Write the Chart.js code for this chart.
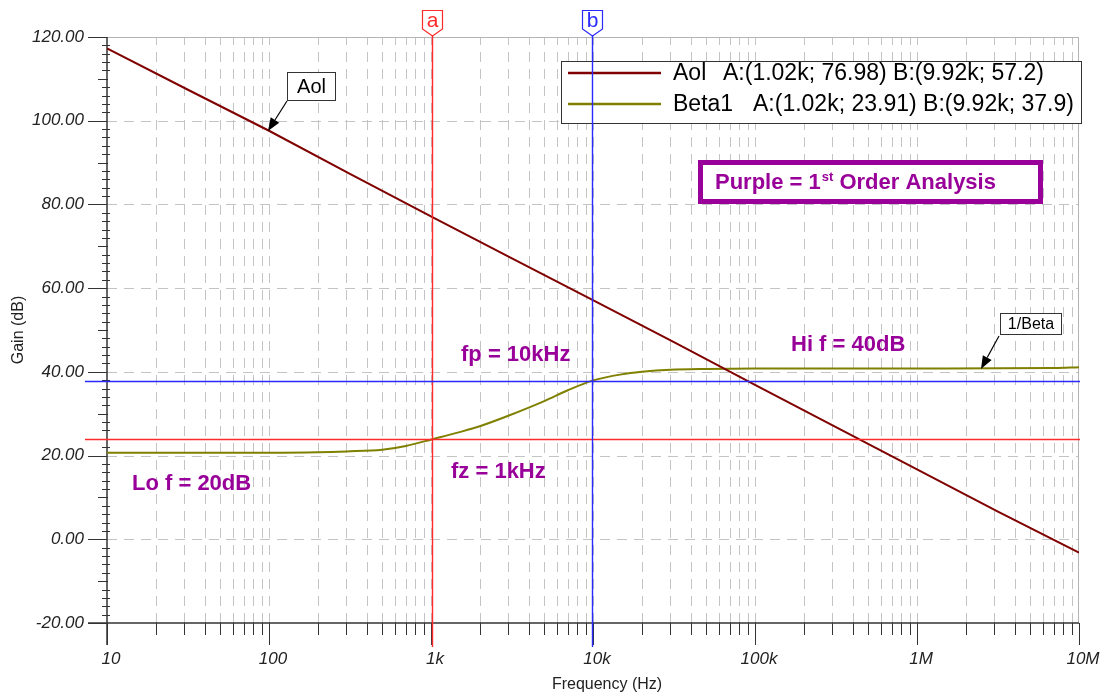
<!DOCTYPE html>
<html><head><meta charset="utf-8">
<script src="https://cdn.jsdelivr.net/npm/chart.js@4.4.1/dist/chart.umd.min.js"></script>
<style>html,body{margin:0;padding:0;background:#fff;}</style>
</head><body>
<canvas id="c" width="1110" height="696" style="display:block;width:1110px;height:696px"></canvas>
<script>
// ---- data ----
const freqAol = [10, 31.6, 100, 316, 1020, 3160, 9920, 31600, 100000, 316000, 1000000, 3160000, 10000000];
const gainAol = [117.3, 107.4, 97.6, 87.3, 76.98, 67.1, 57.2, 47.1, 36.9, 26.8, 16.7, 6.6, -3.2];
const freqBeta = [10, 100, 200, 300, 500, 700, 1020, 1500, 2000, 3000, 5000, 7000, 9920, 15000, 20000, 30000, 50000, 100000, 1000000, 7000000, 10000000];
const gainBeta = [20.7, 20.7, 20.8, 21.0, 21.4, 22.3, 23.91, 25.6, 27.0, 29.5, 33.0, 35.6, 37.9, 39.4, 40.0, 40.5, 40.7, 40.8, 40.8, 40.9, 41.1];
const seriesNames = ['Aol', 'Beta1'];
const xTickValues = [10, 100, 1000, 10000, 100000, 1000000, 10000000];
const xTickLabels = ['10', '100', '1k', '10k', '100k', '1M', '10M'];
const yTickValues = [-20, 0, 20, 40, 60, 80, 100, 120];
const cursorNames = ['a', 'b'];
const cursorFreqs = [1020, 9920];
const cursorFreqLabels = ['1.02k', '9.92k'];
const cursorAol = ['76.98', '57.2'];
const cursorBeta = [23.91, 37.9];
const cursorBetaLabels = ['23.91', '37.9'];
const notes = ['fp = 10kHz', 'fz = 1kHz', 'Lo f = 20dB', 'Hi f = 40dB'];

const FONT = "'Liberation Sans', Arial, Helvetica, sans-serif";
const cursorColors = ['#ff2a2a', '#2a2aff'];
const PURPLE = '#990099';

function pts(xs, ys) { return xs.map((x, i) => ({x: x, y: ys[i]})); }

function line(ctx, x1, y1, x2, y2) { ctx.beginPath(); ctx.moveTo(x1, y1); ctx.lineTo(x2, y2); ctx.stroke(); }

function arrow(ctx, x1, y1, x2, y2) {
  ctx.save();
  ctx.strokeStyle = '#000'; ctx.fillStyle = '#000'; ctx.lineWidth = 1.2;
  const ang = Math.atan2(y2 - y1, x2 - x1);
  const L = 13, W = 5;
  const bx = x2 - L * Math.cos(ang), by = y2 - L * Math.sin(ang);
  line(ctx, x1, y1, bx, by);
  ctx.beginPath();
  ctx.moveTo(x2, y2);
  ctx.lineTo(bx + W * Math.sin(ang), by - W * Math.cos(ang));
  ctx.lineTo(bx - W * Math.sin(ang), by + W * Math.cos(ang));
  ctx.closePath(); ctx.fill();
  ctx.restore();
}

const decor = {
  id: 'decor',
  beforeDatasetsDraw(chart) {
    const ctx = chart.ctx, a = chart.chartArea, xs = chart.scales.x, ys = chart.scales.y;
    ctx.save();
    // grid
    ctx.strokeStyle = '#c4c4c4'; ctx.lineWidth = 1; ctx.setLineDash([10, 7]);
    for (let d = 10; d < 1e7; d *= 10) {
      for (let n = 1; n <= 9; n++) {
        const f = n * d;
        if (f <= 10 || f >= 1e7) continue;
        const px = Math.round(xs.getPixelForValue(f)) + 0.5;
        line(ctx, px, a.bottom, px, a.top);
      }
    }
    for (const v of yTickValues) {
      if (v === -20 || v === 120) continue;
      const py = Math.round(ys.getPixelForValue(v)) + 0.5;
      line(ctx, a.left, py, a.right, py);
    }
    ctx.setLineDash([]);
    ctx.strokeStyle = '#b4b4b4';
    line(ctx, a.left, Math.round(a.top) + 0.5, a.right, Math.round(a.top) + 0.5);
    line(ctx, Math.round(a.right) - 0.5, a.top, Math.round(a.right) - 0.5, a.bottom);
    // axes
    ctx.strokeStyle = '#333'; ctx.lineWidth = 1.5;
    line(ctx, a.left, a.top, a.left, a.bottom + 22);
    line(ctx, a.left - 19, a.bottom, a.right, a.bottom);
    ctx.lineWidth = 1;
    for (let v = -20; v <= 120; v += 2) {
      const py = Math.round(ys.getPixelForValue(v)) + 0.5;
      if (v % 20 === 0) line(ctx, a.left - 19, py, a.left, py);
      else if (v % 10 === 0) line(ctx, a.left - 9, py, a.left + 1, py);
      else line(ctx, a.left - 5, py, a.left + 3, py);
    }
    for (let d = 10; d <= 1e7; d *= 10) {
      for (let n = 1; n <= 9; n++) {
        const f = n * d;
        if (f > 1e7) break;
        const px = Math.round(xs.getPixelForValue(f)) + 0.5;
        if (n === 1) line(ctx, px, a.bottom, px, a.bottom + 22);
        else line(ctx, px, a.bottom, px, a.bottom + 12);
      }
    }
    // x axis title
    ctx.fillStyle = '#222'; ctx.font = '16px ' + FONT;
    ctx.textAlign = 'center'; ctx.textBaseline = 'middle';
    ctx.fillText('Frequency (Hz)', 607, 685);
    ctx.restore();
  },
  afterDatasetsDraw(chart) {
    const ctx = chart.ctx, a = chart.chartArea, xs = chart.scales.x, ys = chart.scales.y;
    ctx.save();
    // legend box
    ctx.fillStyle = '#fff'; ctx.fillRect(561, 61, 521, 62);
    ctx.strokeStyle = '#333'; ctx.lineWidth = 1; ctx.strokeRect(561.5, 61.5, 520, 62);
    const rowsY = [74, 105];
    const valX = [723, 753];
    chart.data.datasets.slice(0, 2).forEach((ds, i) => {
      ctx.strokeStyle = ds.borderColor; ctx.lineWidth = 2.5;
      line(ctx, 568, rowsY[i] - 1, 661, rowsY[i] - 1);
      ctx.fillStyle = '#000'; ctx.font = '23px ' + FONT;
      ctx.textAlign = 'left'; ctx.textBaseline = 'middle';
      ctx.fillText(ds.label, 673, rowsY[i]);
      const vals = i === 0 ? cursorAol : cursorBetaLabels;
      ctx.fillText('A:(' + cursorFreqLabels[0] + '; ' + vals[0] + ') B:(' + cursorFreqLabels[1] + '; ' + vals[1] + ')', valX[i], rowsY[i]);
    });
    // cursors
    cursorFreqs.forEach((f, i) => {
      const px = Math.round(xs.getPixelForValue(f)) + 0.5;
      const py = Math.round(ys.getPixelForValue(cursorBeta[i])) + 0.5;
      ctx.strokeStyle = cursorColors[i]; ctx.lineWidth = 1.4;
      line(ctx, px, 36, px, a.bottom + 24);
      line(ctx, a.left - 22, py, a.right + 1, py);
      // flag
      ctx.beginPath();
      ctx.moveTo(px - 10, 10.5); ctx.lineTo(px + 10, 10.5); ctx.lineTo(px + 10, 29);
      ctx.lineTo(px, 36); ctx.lineTo(px - 10, 29); ctx.closePath();
      ctx.fillStyle = '#fff'; ctx.fill(); ctx.lineWidth = 1.2; ctx.stroke();
      ctx.fillStyle = cursorColors[i]; ctx.font = '21px ' + FONT;
      ctx.textAlign = 'center'; ctx.textBaseline = 'middle';
      ctx.fillText(cursorNames[i], px, 21);
    });
    // Aol label box
    ctx.fillStyle = '#fff'; ctx.fillRect(287, 72, 49, 29);
    ctx.strokeStyle = '#333'; ctx.lineWidth = 1; ctx.strokeRect(287.5, 72.5, 48, 28);
    ctx.fillStyle = '#000'; ctx.font = '20px ' + FONT; ctx.textAlign = 'center'; ctx.textBaseline = 'middle';
    ctx.fillText(seriesNames[0], 311.5, 87);
    arrow(ctx, 287, 101, 268, 131);
    // 1/Beta label box
    ctx.fillStyle = '#fff'; ctx.fillRect(1000, 313, 62, 22);
    ctx.strokeStyle = '#333'; ctx.strokeRect(1000.5, 313.5, 61, 21);
    ctx.fillStyle = '#000'; ctx.font = '16px ' + FONT;
    ctx.fillText('1/Beta', 1031, 325);
    arrow(ctx, 999, 336, 981, 369);
    // purple box
    ctx.fillStyle = '#fff'; ctx.fillRect(698, 160, 345, 44);
    ctx.strokeStyle = PURPLE; ctx.lineWidth = 5; ctx.strokeRect(700.5, 162.5, 340, 39);
    ctx.fillStyle = PURPLE; ctx.textAlign = 'left'; ctx.textBaseline = 'middle';
    ctx.font = 'bold 22px ' + FONT;
    let tx = 715;
    ctx.fillText('Purple = 1', tx, 183); tx += ctx.measureText('Purple = 1').width + 1;
    ctx.font = 'bold 13px ' + FONT;
    ctx.fillText('st', tx, 177); tx += ctx.measureText('st').width;
    ctx.font = 'bold 22px ' + FONT;
    ctx.fillText(' Order Analysis', tx, 183);
    // purple notes
    const notePos = [[461, 355], [451, 472], [132, 484], [791, 345]];
    notes.forEach((t, i) => ctx.fillText(t, notePos[i][0], notePos[i][1]));
    ctx.restore();
  }
};

const HIDDEN = 'rgba(0,0,0,0)';
new Chart(document.getElementById('c'), {
  type: 'line',
  data: {
    datasets: [
      {label: seriesNames[0], data: pts(freqAol, gainAol), borderColor: '#800000', borderWidth: 2, pointRadius: 0, tension: 0, fill: false},
      {label: seriesNames[1], data: pts(freqBeta, gainBeta), borderColor: '#808000', borderWidth: 2, pointRadius: 0, cubicInterpolationMode: 'monotone', fill: false}
    ]
  },
  options: {
    responsive: false, devicePixelRatio: 1, animation: false,
    layout: {padding: {left: 0, right: 31, top: 37, bottom: 0}},
    plugins: {legend: {display: false}, tooltip: {enabled: false}},
    scales: {
      x: {
        type: 'logarithmic', min: 10, max: 10000000,
        afterFit(s) { s.height = 73; },
        afterBuildTicks(s) { s.ticks = xTickValues.map(v => ({value: v})); },
        grid: {display: true, drawOnChartArea: false, drawTicks: true, tickLength: 26, color: HIDDEN, tickColor: HIDDEN},
        border: {display: false},
        ticks: {padding: 0, labelOffset: 4, autoSkip: false, maxRotation: 0, color: '#222',
          font: {family: FONT, size: 17, style: 'italic'},
          callback: (v, i) => xTickLabels[i]}
      },
      y: {
        type: 'linear', min: -20, max: 120,
        afterFit(s) { s.width = 107; },
        afterBuildTicks(s) { s.ticks = yTickValues.map(v => ({value: v})); },
        grid: {display: true, drawOnChartArea: false, drawTicks: true, tickLength: 23, color: HIDDEN, tickColor: HIDDEN},
        border: {display: false},
        ticks: {padding: 0, color: '#222', font: {family: FONT, size: 17, style: 'italic'},
          callback: v => Number(v).toFixed(2)},
        title: {display: true, text: 'Gain (dB)', color: '#222', font: {family: FONT, size: 16}, padding: {top: 9, bottom: 0}}
      }
    }
  },
  plugins: [decor]
});
</script>
</body></html>
